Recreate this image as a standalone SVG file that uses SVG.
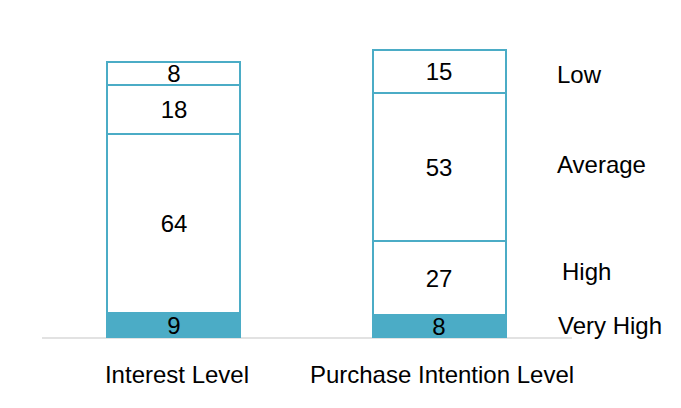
<svg xmlns="http://www.w3.org/2000/svg" width="681" height="408" viewBox="0 0 681 408">
<style>
.seg{fill:#fff;stroke:#4BACC6;stroke-width:2}
.fill{fill:#4BACC6;stroke:#4BACC6;stroke-width:2}
text{font-family:"Liberation Sans",Arial,sans-serif;font-size:24px;fill:#000}
.v{text-anchor:middle}
</style>
<rect width="681" height="408" fill="#fff"/>
<g id="connectors"><line x1="42" y1="338" x2="572" y2="338" stroke="#d9d9d9" stroke-width="1.5"/></g>
<g id="bar-interest">
<rect class="seg" x="107" y="62" width="133" height="23"/>
<rect class="seg" x="107" y="85" width="133" height="49"/>
<rect class="seg" x="107" y="134" width="133" height="179"/>
<rect class="fill" x="107" y="313" width="133" height="24"/>
<text class="v" x="174" y="82">8</text>
<text class="v" x="174" y="118">18</text>
<text class="v" x="174" y="232">64</text>
<text class="v" x="174" y="334">9</text>
</g>
<g id="bar-purchase">
<rect class="seg" x="373" y="50" width="133" height="43"/>
<rect class="seg" x="373" y="93" width="133" height="148"/>
<rect class="seg" x="373" y="241" width="133" height="74"/>
<rect class="fill" x="373" y="315" width="133" height="22"/>
<text class="v" x="439" y="80">15</text>
<text class="v" x="439" y="176">53</text>
<text class="v" x="439" y="287">27</text>
<text class="v" x="439" y="335">8</text>
</g>
<g id="legend">
<text x="557" y="83">Low</text>
<text x="557" y="173">Average</text>
<text x="562" y="280">High</text>
<text x="558" y="334">Very High</text>
</g>
<g id="axis-labels">
<text class="v" x="177" y="383">Interest Level</text>
<text class="v" x="442" y="383">Purchase Intention Level</text>
</g>
</svg>
